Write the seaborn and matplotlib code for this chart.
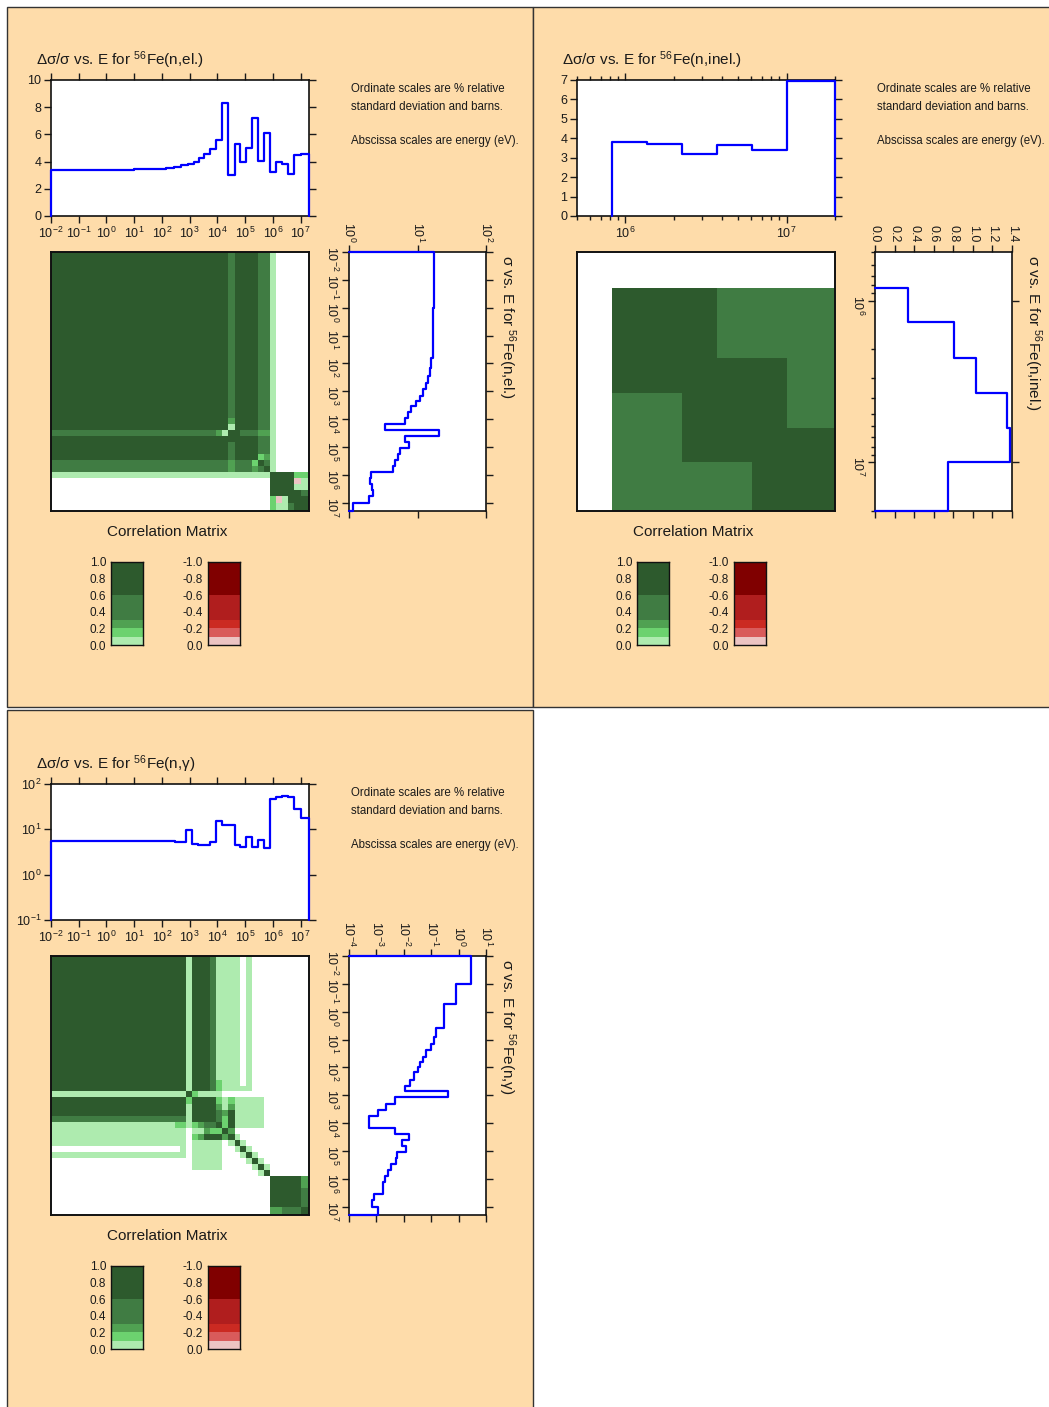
import numpy as np
import matplotlib
matplotlib.use("Agg")
import matplotlib.pyplot as plt
from matplotlib.colors import ListedColormap, BoundaryNorm
from matplotlib.patches import Rectangle
from matplotlib import ticker
import seaborn as sns

sns.set_style("ticks")
plt.rcParams["font.family"] = ["Liberation Sans", "DejaVu Sans"]
plt.rcParams["mathtext.default"] = "regular"

W, H = 1049, 1407
PEACH = "#fedcaa"
INK = "#1a1a1a"
BLUE = "#0000ff"
TICK_FS = 9

# ---------------- correlation colour classes ----------------
corr_bounds = [-1.0, -0.6, -0.3, -0.2, -0.1, 0.0, 0.1, 0.2, 0.3, 0.6, 1.001]
corr_colors = ["#800000", "#b01e1e", "#cb2a22", "#d95b5b", "#ecc4c3",
               "#aeebaf", "#6cd26f", "#50a152", "#407c43", "#2d5a2d"]
green_edges = [0.0, 0.1, 0.2, 0.3, 0.6, 1.0]
red_edges = [-1.0, -0.6, -0.3, -0.2, -0.1, 0.0]
green_ticks = [0.0, 0.2, 0.4, 0.6, 0.8, 1.0]
green_labels = ["0.0", "0.2", "0.4", "0.6", "0.8", "1.0"]
red_ticks = [0.0, -0.2, -0.4, -0.6, -0.8, -1.0]
red_labels = ["0.0", "-0.2", "-0.4", "-0.6", "-0.8", "-1.0"]

note_lines = ["Ordinate scales are % relative",
              "standard deviation and barns.",
              "Abscissa scales are energy (eV)."]

# ---------------- 56Fe(n,el.) ----------------
el_edges = [1e-2, 1e-1, 1.0, 10.0, 63.0, 141.0, 282.0, 501.0, 851.0, 1480.0,
            2240.0, 3390.0, 5620.0, 8910.0, 14800.0, 24000.0, 41700.0, 64600.0,
            107000.0, 178000.0, 302000.0, 490000.0, 794000.0, 1290000.0,
            2140000.0, 3550000.0, 5890000.0, 1.0e7, 2.0e7]
el_unc = [3.35, 3.40, 3.41, 3.42, 3.45, 3.52, 3.62, 3.72, 3.85, 4.0, 4.25,
          4.55, 4.95, 5.6, 8.3, 3.05, 5.3, 4.0, 5.0, 7.2, 4.05, 6.1, 3.2, 4.0,
          3.8, 3.1, 4.45, 4.55]
el_xs = [17.5, 17.3, 17.1, 16.7, 16.0, 15.1, 14.1, 13.2, 12.1, 10.8, 9.4, 8.1,
         7.2, 6.5, 3.36, 20.5, 6.6, 7.5, 5.5, 5.2, 4.77, 4.4, 2.13, 2.02, 2.2,
         2.26, 1.95, 1.16]
# (first row, last row, first col, last col, correlation), mirrored
el_corr_blocks = [
    (0, 21, 0, 21, 0.8),
    (15, 15, 0, 12, 0.45),
    (15, 15, 13, 13, 0.25),
    (15, 15, 14, 14, 0.05),
    (15, 15, 16, 16, 0.8),
    (15, 15, 17, 19, 0.45),
    (15, 15, 20, 21, 0.25),
    (20, 21, 0, 14, 0.45),
    (20, 21, 16, 18, 0.45),
    (19, 19, 20, 20, 0.15),
    (19, 19, 21, 21, 0.25),
    (20, 20, 21, 21, 0.45),
    (22, 22, 0, 21, 0.05),
    (22, 25, 22, 25, 0.8),
    (22, 22, 26, 27, 0.15),
    (23, 23, 26, 26, -0.05),
    (23, 24, 27, 27, 0.05),
    (24, 24, 26, 26, 0.05),
    (25, 25, 26, 26, 0.8),
    (25, 25, 27, 27, 0.45),
    (26, 27, 26, 27, 0.8),
]

# ---------------- 56Fe(n,inel.) ----------------
inel_edges = [8.3e5, 1.36e6, 2.25e6, 3.7e6, 6.1e6, 1.0e7, 2.0e7]
inel_unc = [3.8, 3.7, 3.2, 3.68, 3.4, 6.93]
inel_xs = [0.34, 0.81, 1.03, 1.35, 1.38, 0.75]
inel_corr_blocks = [
    (0, 2, 0, 2, 0.8),
    (0, 1, 3, 5, 0.45),
    (2, 2, 3, 4, 0.8),
    (2, 2, 5, 5, 0.45),
    (3, 4, 3, 4, 0.8),
    (3, 3, 5, 5, 0.45),
    (4, 4, 5, 5, 0.8),
]

# ---------------- 56Fe(n,gamma) ----------------
cap_edges = [0.01, 0.1, 0.55, 3.8, 8.1, 14.1, 23.4, 40.7, 61.7, 93.3, 151.0,
             295.0, 457.0, 708.0, 1175.0, 2000.0, 3390.0, 5620.0, 8910.0,
             14800.0, 24000.0, 41700.0, 64600.0, 107000.0, 178000.0, 302000.0,
             490000.0, 794000.0, 1290000.0, 2140000.0, 3550000.0, 5890000.0,
             1.0e7, 2.0e7]
cap_unc = [5.56, 5.55, 5.55, 5.54, 5.53, 5.52, 5.50, 5.48, 5.46, 5.43, 5.40,
           5.35, 5.30, 9.8, 4.77, 4.6, 4.45, 5.37, 15.5, 12.6, 12.2, 4.5, 4.1,
           6.7, 4.1, 5.9, 3.8, 47.0, 51.0, 53.0, 52.0, 28.8, 17.7]
cap_xs = [2.8, 0.78, 0.30, 0.152, 0.125, 0.097, 0.063, 0.05, 0.04, 0.033,
          0.0235, 0.0162, 0.0112, 0.40, 0.0046, 0.0022, 0.00115, 0.00055,
          0.00055, 0.0048, 0.0155, 0.0087, 0.0123, 0.0057, 0.0052, 0.0035,
          0.0027, 0.0021, 0.0017, 0.0017, 0.00083, 0.00067, 0.0011]
cap_corr_blocks = [
    (0, 12, 0, 12, 0.8),
    (0, 12, 13, 13, 0.05),
    (0, 16, 14, 16, 0.8),
    (0, 12, 17, 17, 0.45),
    (14, 17, 17, 17, 0.8),
    (0, 12, 18, 21, 0.05),
    (11, 12, 18, 18, 0.15),
    (12, 12, 22, 23, 0.05),
    (0, 11, 23, 23, 0.05),
    (13, 13, 14, 14, 0.15),
    (13, 13, 15, 18, 0.05),
    (14, 14, 18, 18, 0.15), (15, 15, 18, 18, 0.25), (16, 17, 18, 18, 0.45),
    (14, 15, 19, 19, 0.05), (16, 16, 19, 19, 0.25), (17, 17, 19, 19, 0.15),
    (14, 14, 20, 20, 0.15), (15, 15, 20, 20, 0.25), (16, 17, 20, 20, 0.8),
    (18, 18, 19, 19, 0.15), (18, 18, 20, 20, 0.8), (19, 19, 20, 20, 0.25),
    (14, 18, 21, 25, 0.05),
    (20, 20, 21, 21, 0.05), (21, 21, 22, 22, 0.05), (22, 22, 23, 23, 0.05),
    (23, 23, 24, 24, 0.05), (24, 24, 25, 25, 0.05), (25, 25, 26, 26, 0.05),
    (27, 31, 27, 31, 0.8),
    (27, 28, 32, 32, 0.25),
    (29, 31, 32, 32, 0.45),
]

cmap = ListedColormap(corr_colors)
norm = BoundaryNorm(corr_bounds, cmap.N)


def build_corr(n, blocks):
    m = np.full((n, n), np.nan)
    for r0, r1, c0, c1, val in blocks:
        m[r0:r1 + 1, c0:c1 + 1] = val
        m[c0:c1 + 1, r0:r1 + 1] = val
    np.fill_diagonal(m, 1.0)
    return m


fig = plt.figure(figsize=(W / 100, H / 100), dpi=100, facecolor="white")


def px_axes(x0, y0, x1, y1):
    return fig.add_axes([x0 / W, 1 - y1 / H, (x1 - x0) / W, (y1 - y0) / H])


def fig_text(x, y, s, **kw):
    kw.setdefault("color", INK)
    fig.text(x / W, 1 - y / H, s, **kw)


def frame(ax, lw=1.2):
    ax.set_facecolor("white")
    for s in ax.spines.values():
        s.set_visible(True)
        s.set_linewidth(lw)
        s.set_color("#111111")


def blue_line(ax, x, y):
    sns.lineplot(x=x, y=y, sort=False, estimator=None, ax=ax, color=BLUE,
                 linewidth=1.6)
    ln = ax.lines[-1]
    ln.set_clip_on(False)
    ln.set_zorder(3)
    ax.set_xlabel("")
    ax.set_ylabel("")


def log_axis(axis, minor):
    axis.set_major_locator(ticker.LogLocator(base=10, numticks=30))
    if minor:
        axis.set_minor_locator(ticker.LogLocator(base=10, subs=np.arange(2, 10), numticks=30))
    else:
        axis.set_minor_locator(ticker.NullLocator())
    axis.set_minor_formatter(ticker.NullFormatter())


def draw_panel(ox, oy, name, edges, unc, xs, blocks, elim, ulim, ulog, uticks,
               slim, slog, sticks, minor):
    # title
    fig_text(ox + 36, oy + 60, "Δσ/σ vs. E for $^{56}$Fe" + name, fontsize=11,
             ha="left", va="center")

    # relative uncertainty versus energy
    ax = px_axes(ox + 51, oy + 80, ox + 309, oy + 216)
    frame(ax)
    ux = np.repeat(edges, 2)
    uy = np.concatenate([[ulim[0]], np.repeat(unc, 2), [ulim[0]]])
    blue_line(ax, ux, uy)
    ax.set_xscale("log")
    ax.set_xlim(elim)
    log_axis(ax.xaxis, minor)
    if ulog:
        ax.set_yscale("log")
        log_axis(ax.yaxis, False)
    else:
        ax.set_yticks(uticks)
    ax.set_ylim(ulim)
    ax.tick_params(which="both", direction="out", top=True, right=True,
                   bottom=True, left=True, labelsize=TICK_FS, length=5, width=1,
                   pad=2, colors=INK)
    ax.tick_params(which="minor", length=3)

    for k, yy in enumerate([89, 107, 141]):
        fig_text(ox + 351, oy + yy, note_lines[k], fontsize=8.3, ha="left",
                 va="center")

    # correlation matrix
    axm = px_axes(ox + 51, oy + 252, ox + 309, oy + 511)
    frame(axm, 1.4)
    corr = build_corr(len(unc), blocks)
    axm.pcolormesh(edges, edges, np.ma.masked_invalid(corr), cmap=cmap,
                   norm=norm, shading="flat", antialiased=False,
                   edgecolors="none")
    axm.set_xscale("log")
    axm.set_yscale("log")
    axm.set_xlim(elim)
    axm.set_ylim(elim[1], elim[0])
    for a in (axm.xaxis, axm.yaxis):
        a.set_major_locator(ticker.NullLocator())
        a.set_minor_locator(ticker.NullLocator())
    fig_text(ox + 167, oy + 532, "Correlation Matrix", fontsize=11,
             ha="center", va="center")

    # cross section, drawn with energy running downwards
    axs = px_axes(ox + 349, oy + 252, ox + 486, oy + 511)
    frame(axs)
    sy = np.repeat(edges, 2)
    sx = np.concatenate([[slim[0]], np.repeat(xs, 2), [slim[0]]])
    blue_line(axs, sx, sy)
    axs.set_yscale("log")
    log_axis(axs.yaxis, minor)
    axs.set_ylim(elim[1], elim[0])
    if slog:
        axs.set_xscale("log")
        log_axis(axs.xaxis, False)
    else:
        axs.set_xticks(sticks)
        axs.xaxis.set_major_formatter(ticker.FormatStrFormatter("%.1f"))
    axs.set_xlim(slim)
    axs.tick_params(which="both", direction="out", top=True, right=True,
                    bottom=True, left=True, labeltop=True, labelbottom=False,
                    labelsize=TICK_FS, length=5, width=1, pad=2, colors=INK)
    axs.tick_params(which="minor", length=3, right=False)
    axs.tick_params(axis="x", labelrotation=-90)
    axs.tick_params(axis="y", labelrotation=-90)
    fig_text(ox + 507, oy + 255, "σ vs. E for $^{56}$Fe" + name, fontsize=11,
             rotation=-90, ha="center", va="top")

    # colour keys
    for x0, be, ticks, labels, yl in [
            (111, green_edges, green_ticks, green_labels, (0.0, 1.0)),
            (208, red_edges, red_ticks, red_labels, (0.0, -1.0))]:
        ak = px_axes(ox + x0, oy + 562, ox + x0 + 32, oy + 645)
        frame(ak, 1.0)
        mids = [(be[i] + be[i + 1]) / 2 for i in range(len(be) - 1)]
        ak.pcolormesh([0.0, 1.0], be, np.array(mids).reshape(-1, 1), cmap=cmap,
                      norm=norm, shading="flat", antialiased=False)
        ak.set_xlim(0, 1)
        ak.set_ylim(yl)
        ak.set_xticks([])
        ak.set_yticks(ticks)
        ak.set_yticklabels(labels)
        ak.tick_params(axis="y", length=0, pad=3.5, labelsize=8.5, colors=INK)


# panel backgrounds
for x0, y0, x1, y1 in [(7, 7, 533, 707), (533, 7, 1053, 707), (7, 710, 533, 1411)]:
    fig.add_artist(Rectangle((x0 / W, 1 - y1 / H), (x1 - x0) / W, (y1 - y0) / H,
                             transform=fig.transFigure, facecolor=PEACH,
                             edgecolor="#333333", linewidth=1.0, zorder=-1))

draw_panel(0, 0, "(n,el.)", el_edges, el_unc, el_xs, el_corr_blocks,
           (1e-2, 2e7), (0, 10), False, [0, 2, 4, 6, 8, 10],
           (1.0, 100.0), True, None, False)
draw_panel(526, 0, "(n,inel.)", inel_edges, inel_unc, inel_xs, inel_corr_blocks,
           (5e5, 2e7), (0, 7), False, [0, 1, 2, 3, 4, 5, 6, 7],
           (0.0, 1.4), False, [0.0, 0.2, 0.4, 0.6, 0.8, 1.0, 1.2, 1.4], True)
draw_panel(0, 704, "(n,γ)", cap_edges, cap_unc, cap_xs, cap_corr_blocks,
           (1e-2, 2e7), (0.1, 100.0), True, None,
           (1e-4, 10.0), True, None, False)

fig.savefig("out.png", dpi=100, facecolor="white")
